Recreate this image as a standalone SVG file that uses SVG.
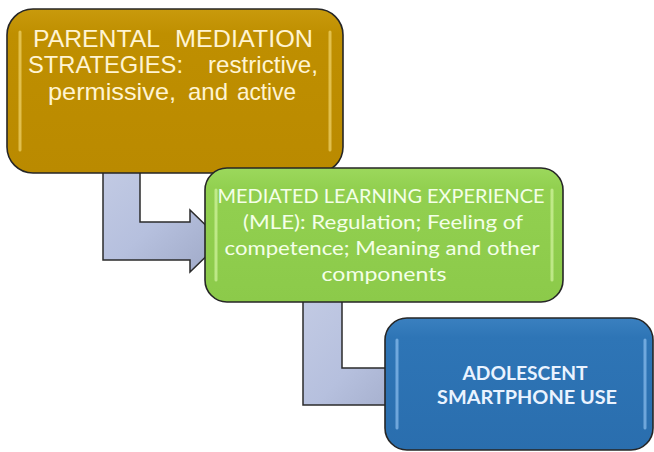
<svg xmlns="http://www.w3.org/2000/svg" width="654" height="452" viewBox="0 0 654 452">
  <defs>
    <linearGradient id="arrowFill" x1="0" y1="0" x2="1" y2="1">
      <stop offset="0" stop-color="#C3CBE4"/>
      <stop offset="0.5" stop-color="#B6C0DE"/>
      <stop offset="1" stop-color="#9EA8C6"/>
    </linearGradient>
    <linearGradient id="goldFill" x1="0" y1="0" x2="0" y2="1">
      <stop offset="0" stop-color="#C99A0C"/>
      <stop offset="0.15" stop-color="#BF8F00"/>
      <stop offset="1" stop-color="#BA8A00"/>
    </linearGradient>
    <linearGradient id="greenFill" x1="0" y1="0" x2="0" y2="1">
      <stop offset="0" stop-color="#9CD85C"/>
      <stop offset="0.15" stop-color="#92D050"/>
      <stop offset="1" stop-color="#8CCA4A"/>
    </linearGradient>
    <linearGradient id="blueFill" x1="0" y1="0" x2="0" y2="1">
      <stop offset="0" stop-color="#3A80C0"/>
      <stop offset="0.15" stop-color="#2E75B6"/>
      <stop offset="1" stop-color="#2A6EAE"/>
    </linearGradient>
  </defs>
  <style>
    .arrow { fill: url(#arrowFill); stroke: #2b2b2b; stroke-width: 1.5; stroke-linejoin: miter; }
    .box { stroke: #262626; stroke-width: 1.6; }
    .gleam { fill: none; stroke-width: 3; stroke-linecap: round; opacity: 0.55; }
    .gold-text { font-family: "Liberation Sans", Arial, sans-serif; font-size: 24px; fill: #FFF4D2; }
    .green-text { font-family: Lato, "Open Sans", sans-serif; font-size: 19.5px; fill: #F4FFE8; text-anchor: middle; }
    .blue-text { font-family: Lato, "Open Sans", sans-serif; font-size: 18px; font-weight: bold; fill: #EAF3FF; text-anchor: middle; }
  </style>

  <g id="connectors">
    <!-- elbow arrow: strategies to MLE -->
    <path class="arrow" d="M103,160 H140 V222 H190 V210 L222,241 L190,272 V260 H103 Z"/>
    <!-- elbow arrow: MLE to smartphone use (head hidden behind box) -->
    <path class="arrow" d="M303,290 H342 V368 H395 V356 L420,387 L395,418 V405 H303 Z"/>
  </g>

  <g id="node-strategies">
    <rect class="box" x="7" y="9" width="336" height="164" rx="26" fill="url(#goldFill)"/>
    <path class="gleam" stroke="#FFE98A" d="M20,32 V150"/>
    <path class="gleam" stroke="#FFE98A" d="M330,32 V150"/>
    <!-- justified lines: each word pinned to its slot -->
    <text class="gold-text" x="33" y="47" textLength="127" lengthAdjust="spacingAndGlyphs">PARENTAL</text>
    <text class="gold-text" x="175" y="47" textLength="138" lengthAdjust="spacingAndGlyphs">MEDIATION</text>
    <text class="gold-text" x="28" y="73" textLength="155" lengthAdjust="spacingAndGlyphs">STRATEGIES:</text>
    <text class="gold-text" x="208" y="73" textLength="110" lengthAdjust="spacingAndGlyphs">restrictive,</text>
    <text class="gold-text" x="48" y="100" textLength="128" lengthAdjust="spacingAndGlyphs">permissive,</text>
    <text class="gold-text" x="188" y="100" textLength="40" lengthAdjust="spacingAndGlyphs">and</text>
    <text class="gold-text" x="237" y="100" textLength="59" lengthAdjust="spacingAndGlyphs">active</text>
  </g>

  <g id="node-mle">
    <rect class="box" x="205" y="168" width="358" height="134" rx="22" fill="url(#greenFill)"/>
    <path class="gleam" stroke="#E6FFB8" d="M216,190 V280"/>
    <path class="gleam" stroke="#E6FFB8" d="M552,190 V280"/>
    <text class="green-text" x="381" y="203" textLength="327" lengthAdjust="spacingAndGlyphs">MEDIATED LEARNING EXPERIENCE</text>
    <text class="green-text" x="383" y="229" textLength="280" lengthAdjust="spacingAndGlyphs">(MLE): Regulation; Feeling of</text>
    <text class="green-text" x="382" y="255" textLength="315" lengthAdjust="spacingAndGlyphs">competence; Meaning and other</text>
    <text class="green-text" x="384" y="281" textLength="125" lengthAdjust="spacingAndGlyphs">components</text>
  </g>

  <g id="node-smartphone">
    <rect class="box" x="385" y="318" width="268" height="132" rx="22" fill="url(#blueFill)"/>
    <path class="gleam" stroke="#A8D4FF" d="M397,340 V428"/>
    <path class="gleam" stroke="#A8D4FF" d="M645,340 V428"/>
    <text class="blue-text" x="525" y="380" textLength="125" lengthAdjust="spacingAndGlyphs">ADOLESCENT</text>
    <text class="blue-text" x="527" y="404" textLength="180" lengthAdjust="spacingAndGlyphs">SMARTPHONE USE</text>
  </g>
</svg>
